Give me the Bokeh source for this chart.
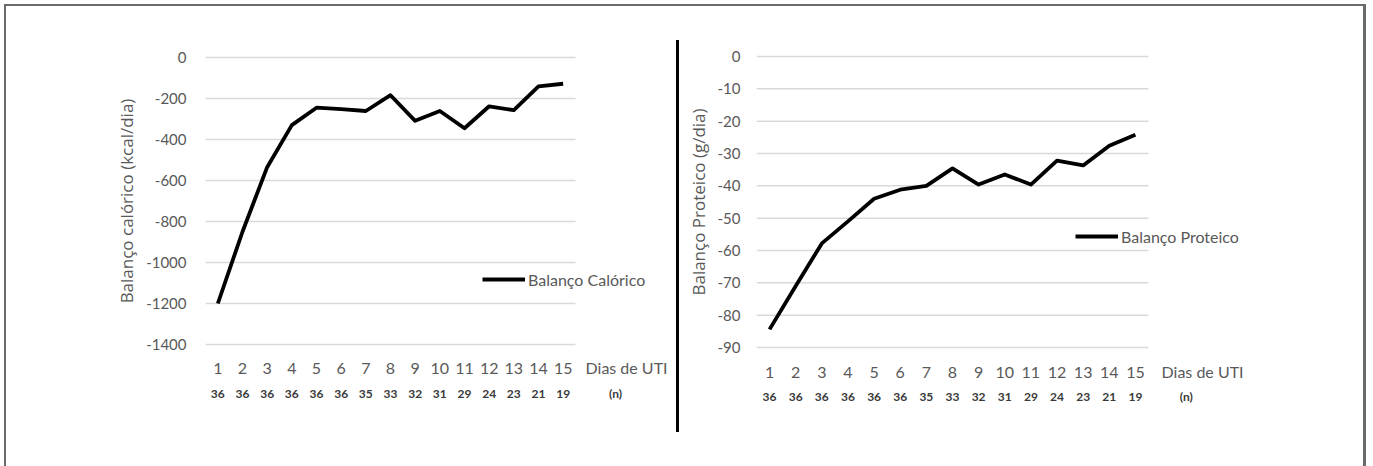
from bokeh.plotting import figure
from bokeh.models import (Range1d, FixedTicker, LinearAxis, Legend, LegendItem,
                          Spacer)
from bokeh.layouts import row, column
from bokeh.embed import file_html
from bokeh.resources import INLINE

# ---------------- data ----------------
days = list(range(1, 16))
n_patients = [36, 36, 36, 36, 36, 36, 35, 33, 32, 31, 29, 24, 23, 21, 19]
caloric_balance = [-1200, -850, -535, -330, -245, -252, -261, -184, -309, -261,
                   -345, -238, -257, -141, -128]
protein_balance = [-84.4, -71.0, -57.8, -51.0, -44.0, -41.2, -40.0, -34.6, -39.6,
                   -36.5, -39.6, -32.2, -33.7, -27.6, -24.2]
cal_ticks = [0, -200, -400, -600, -800, -1000, -1200, -1400]
prot_ticks = [0, -10, -20, -30, -40, -50, -60, -70, -80, -90]
x_title = "Dias de UTI"
n_title = "(n)"

FONT = "Lato"
TITLE_FONT = "Open Sans"
GRAY = "#595959"
FRAME = "#6b6b6b"


def make_chart(width, height, b_left, b_right, b_top, b_bottom, x_hi, y_lo, y_hi,
               y_ticks, values, y_title, legend_text, legend_xy, dias_x, n_x,
               title_standoff, ylab_standoff, day_standoff, n_standoff):
    p = figure(width=width, height=height, x_range=Range1d(0.5, x_hi),
               y_range=Range1d(y_lo, y_hi), output_backend="svg",
               toolbar_location=None, min_border_left=b_left,
               min_border_right=b_right, min_border_top=b_top,
               min_border_bottom=b_bottom)
    p.outline_line_color = None
    p.background_fill_color = "white"
    p.border_fill_color = "white"
    p.xgrid[0].visible = False
    p.ygrid[0].visible = False

    # horizontal gridlines over the 15 day categories
    p.segment(x0=[days[0] - 0.5] * len(y_ticks), x1=[days[-1] + 0.5] * len(y_ticks),
              y0=y_ticks, y1=y_ticks, line_color="#d9d9d9", line_width=1.5)

    # y axis
    ya = p.yaxis[0]
    ya.ticker = FixedTicker(ticks=y_ticks)
    ya.major_label_overrides = {t: str(t) for t in y_ticks}
    ya.axis_line_color = None
    ya.major_tick_line_color = None
    ya.minor_tick_line_color = None
    ya.major_label_text_font = FONT
    ya.major_label_text_font_size = "15px"
    ya.major_label_text_color = GRAY
    ya.major_label_standoff = ylab_standoff
    ya.axis_label = y_title
    ya.axis_label_text_font = TITLE_FONT
    ya.axis_label_text_font_size = "17px"
    ya.axis_label_text_font_style = "normal"
    ya.axis_label_text_color = GRAY
    ya.axis_label_standoff = title_standoff

    # x axis: day numbers + "Dias de UTI"
    xa = p.xaxis[0]
    xa.ticker = FixedTicker(ticks=days + [dias_x])
    ov = {d: str(d) for d in days}
    ov[dias_x] = x_title
    xa.major_label_overrides = ov
    xa.axis_line_color = None
    xa.major_tick_line_color = None
    xa.minor_tick_line_color = None
    xa.major_label_text_font = FONT
    xa.major_label_text_font_size = "16px"
    xa.major_label_text_color = GRAY
    xa.major_label_standoff = day_standoff

    # second x axis: n per day + "(n)"
    nov = {d: str(v) for d, v in zip(days, n_patients)}
    nov[n_x] = n_title
    na = LinearAxis(ticker=FixedTicker(ticks=days + [n_x]),
                    major_label_overrides=nov)
    na.axis_line_color = None
    na.major_tick_line_color = None
    na.minor_tick_line_color = None
    na.major_label_text_font = FONT
    na.major_label_text_font_size = "12px"
    na.major_label_text_font_style = "bold"
    na.major_label_text_color = "#3a3a3a"
    na.major_label_standoff = n_standoff
    p.add_layout(na, "below")

    r = p.line(days, values, line_color="black", line_width=3.8,
               line_join="round")

    legend = Legend(items=[LegendItem(label=legend_text, renderers=[r])],
                    location=legend_xy, glyph_width=43, glyph_height=20,
                    label_height=20, label_standoff=3, padding=0, margin=0,
                    spacing=0, border_line_color=None, background_fill_alpha=0,
                    label_text_font=FONT, label_text_font_size="16px",
                    label_text_color=GRAY)
    p.add_layout(legend)
    return p


p1 = make_chart(670, 392, 199, 3, 15, 86, 19.473, -1409.76, 9.76, cal_ticks,
                caloric_balance, "Balanço calórico (kcal/dia)",
                "Balanço Calórico", (277, 57), 17.57, 17.12, 5, 13, 5, 0)
p2 = make_chart(684, 392, 77, 105, 14, 83, 19.71, -90.62, 0.62, prot_ticks,
                protein_balance, "Balanço Proteico (g/dia)",
                "Balanço Proteico", (319, 103), 17.57, 16.95, 5, 10, 6, -1)

top_bar = Spacer(width=1362, height=2, styles={"background-color": FRAME})
left_bar = Spacer(width=2, height=460, styles={"background-color": FRAME})
right_bar = Spacer(width=3, height=460, styles={"background-color": FRAME})
divider = Spacer(width=3, height=392, styles={"background-color": "black"})

col1 = column(Spacer(width=670, height=34), p1)
col_div = column(Spacer(width=3, height=34), divider)
col2 = column(Spacer(width=684, height=34), p2)

framed = column(top_bar, row(left_bar, col1, col_div, col2, right_bar))
layout = column(Spacer(width=1366, height=4), row(Spacer(width=4, height=462), framed))

open("out.html", "w").write(file_html(layout, INLINE))
